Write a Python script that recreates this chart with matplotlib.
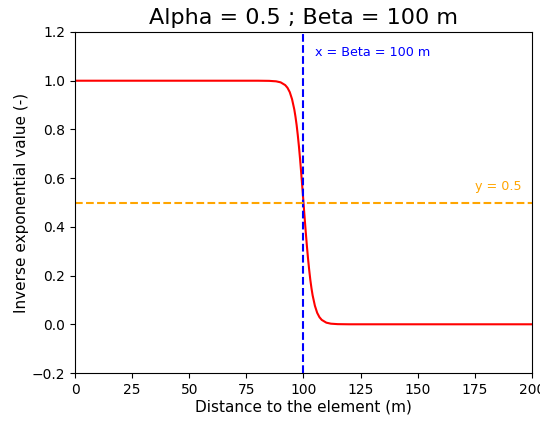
import numpy as np
import matplotlib
matplotlib.use('Agg')
import matplotlib.pyplot as plt

alpha = 0.5
beta = 100

# inverse exponential curve, sampled points
dist = [0, 60, 80, 85, 88, 90, 92, 93, 94, 95, 96, 96.5, 97, 97.5, 98, 98.5, 99, 99.5,
        100, 100.5, 101, 101.5, 102, 102.5, 103, 103.5, 104, 105, 106, 107, 108,
        110, 112, 115, 120, 140, 200]
value = [1.0, 1.0, 1.0, 0.9994, 0.9975, 0.9933, 0.982, 0.971, 0.953, 0.924, 0.881,
         0.852, 0.818, 0.777, 0.731, 0.679, 0.622, 0.562,
         0.5, 0.438, 0.378, 0.321, 0.269, 0.223, 0.182, 0.148, 0.119, 0.076, 0.047,
         0.029, 0.018, 0.0067, 0.0025, 0.0006, 0.0, 0.0, 0.0]

fig = plt.figure(figsize=(5.4, 4.21), dpi=100)
ax = fig.add_axes([0.139, 0.114, 0.846, 0.81])

ax.plot(dist, value, color='red', lw=1.5)
ax.axvline(beta, color='blue', ls='--', lw=1.5)
ax.axhline(0.5, color='orange', ls='--', lw=1.5)
ax.text(beta + 5, 1.10, 'x = Beta = %d m' % beta, color='blue', fontsize=9.2)
ax.text(175, 0.55, 'y = 0.5', color='orange', fontsize=9.2)

ax.set_xlim(0, 200)
ax.set_ylim(-0.2, 1.2)
ax.set_xlabel('Distance to the element (m)', fontsize=11, labelpad=2)
ax.set_ylabel('Inverse exponential value (-)', fontsize=11, labelpad=2)
ax.set_title('Alpha = %s ; Beta = %d m' % (alpha, beta), fontsize=16)

fig.savefig('out.png', dpi=100)
